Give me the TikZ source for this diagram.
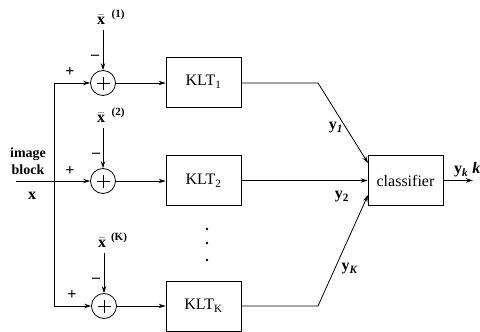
\documentclass[tikz,border=0pt]{standalone}
\usepackage{fontspec}
\setmainfont{Liberation Serif}
\usetikzlibrary{arrows.meta,calc}
\begin{document}
\begin{tikzpicture}[x=1pt,y=-1pt,
  blk/.style={draw,line width=0.8pt,minimum width=75pt,minimum height=50pt,inner sep=0pt,font=\fontsize{16}{16}\selectfont},
  sumn/.style={draw,circle,line width=0.8pt,minimum size=25pt,inner sep=0pt,
    path picture={\draw[line width=0.8pt] ([xshift=-6.5pt]path picture bounding box.center) -- ([xshift=6.5pt]path picture bounding box.center) ([yshift=-6.5pt]path picture bounding box.center) -- ([yshift=6.5pt]path picture bounding box.center);}},
  con/.style={line width=0.8pt,-{Stealth[length=7pt,width=4.5pt]}},
  ln/.style={line width=0.8pt},
  lbl/.style={font=\fontsize{16}{16}\selectfont\bfseries,inner sep=0pt},
  supl/.style={font=\fontsize{11}{11}\selectfont\bfseries,inner sep=0pt},
  sgn/.style={font=\fontsize{16}{16}\selectfont\bfseries,inner sep=0pt},
  dot/.style={circle,fill=black,inner sep=0pt,minimum size=2.6pt}]
\useasboundingbox (0,0) rectangle (480,332);

% summing junctions
\node[sumn] (s1) at (103,83) {};
\node[sumn] (s2) at (103,181) {};
\node[sumn] (s3) at (104,306) {};

% KLT blocks
\node[blk] (k1) at (203.5,82) {KLT\textsubscript{1}};
\node[blk] (k2) at (203.5,180.5) {KLT\textsubscript{2}};
\node[blk] (k3) at (203.5,306) {KLT\textsubscript{K}};

% classifier
\node[blk] (cls) at (405.5,180.5) {classifier};

% mean vectors
\node[lbl] (m1) at (101,20) {$\bar{\textbf{x}}$};
\node[supl] (m1s) at (118,15) {(1)};
\node[lbl] (m2) at (101,118) {$\bar{\textbf{x}}$};
\node[supl] (m2s) at (118,113) {(2)};
\node[lbl] (m3) at (102,243) {$\bar{\textbf{x}}$};
\node[supl] (m3s) at (119,238) {(K)};

\draw[con] ($(m1.south -| s1.north)+(0,5)$) -- (s1.north);
\draw[con] ($(m2.south -| s2.north)+(0,5)$) -- (s2.north);
\draw[con] ($(m3.south -| s3.north)+(0,5)$) -- (s3.north);

% signs
\node[sgn] (p1) at (70,72) {+};
\node[sgn] (p2) at (70,171) {+};
\node[sgn] (p3) at (72,295) {+};
\node[sgn] (n1) at (95,57) {–};
\node[sgn] (n2) at (96,155) {–};
\node[sgn] (n3) at (96,280) {–};

% input
\node[font=\fontsize{14}{17}\selectfont\bfseries,align=center,inner sep=0pt] (img) at (28,161) {image\\block};
\node[lbl] (xin) at (32,196) {x};
\coordinate (in) at (16,181);
\coordinate (bt) at (54,83);
\coordinate (bb) at (54,306);

\draw[con] (in) -- (s2.west);
\draw[ln] (bt) -- (bb);
\draw[con] (bt) -- (s1.west);
\draw[con] (bb) -- (s3.west);

% sum to KLT
\draw[con] (s1.east) -- (k1.west |- s1.east);
\draw[con] (s2.east) -- (k2.west |- s2.east);
\draw[con] (s3.east) -- (k3.west |- s3.east);

% KLT to classifier
\coordinate (c1) at (318,83);
\coordinate (c3) at (318,306);
\coordinate (e1) at (368,163);
\coordinate (e3) at (368,195);
\draw[con] (k1.east |- c1) -- (c1) -- (e1);
\draw[con] (k2.east |- cls.west) -- (cls.west);
\draw[con] (k3.east |- c3) -- (c3) -- (e3);

\node[lbl] (y1) at (336,128) {y\textsubscript{\textit{1}}};
\node[lbl] (y2) at (342,197) {y\textsubscript{2}};
\node[lbl] (yK) at (350,269) {y\textsubscript{\textit{K}}};

% output
\coordinate (out) at (473,180.5);
\draw[con] (cls.east) -- (out);
\node[lbl,anchor=west] (yk) at (454,170) {y\textsubscript{\textit{k}}\ \textit{k}};

% dots
\node[dot] (d1) at (207,229) {};
\node[dot] (d2) at (207,243) {};
\node[dot] (d3) at (207,260) {};
\end{tikzpicture}
\end{document}
